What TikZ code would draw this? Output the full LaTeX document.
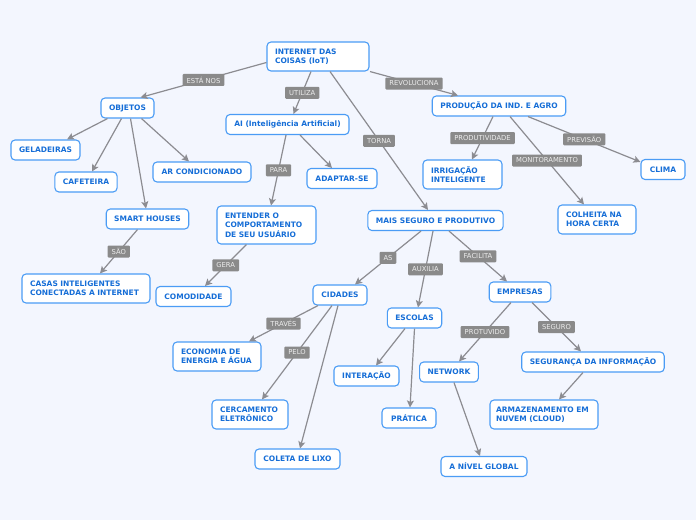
\documentclass[tikz,border=0pt]{standalone}
\usepackage{fontspec}
\newfontfamily\mapfont{DejaVu Sans}
\usetikzlibrary{arrows.meta}
\definecolor{bgblue}{RGB}{243,246,254}
\definecolor{boxline}{RGB}{75,156,245}
\definecolor{boxtext}{RGB}{22,110,215}
\definecolor{lblgray}{RGB}{138,138,138}
\definecolor{linkgray}{RGB}{140,140,145}
\begin{document}
\begin{tikzpicture}[x=1pt,y=-1pt,
  topic/.style={draw=boxline, line width=1.1pt, fill=white, rounded corners=4pt,
    text=boxtext, font=\mapfont\bfseries\fontsize{7.5}{9.5}\selectfont,
    minimum height=20pt, inner xsep=8pt, inner ysep=4pt},
  multi/.style={topic, align=left, text width=#1},
  lbl/.style={fill=lblgray, text=white!93!black, rounded corners=1pt,
    font=\mapfont\fontsize{6.8}{8}\selectfont, minimum height=12pt,
    inner xsep=4pt, inner ysep=1pt},
  link/.style={draw=linkgray, line width=1.2pt,
    -{Stealth[length=7pt,width=7pt,inset=1.5pt]}}]

% Background and page size
\fill[bgblue] (0,0) rectangle (696,520);
\useasboundingbox (0,0) rectangle (696,520);

% Central topic
\node[multi=86pt, minimum height=29pt] (iot) at (318,56.5) {INTERNET DAS\\COISAS (IoT)};

% Left branch: objects
\node[topic, minimum width=53pt] (objetos) at (127.5,108) {OBJETOS};
\node[topic, minimum width=69pt] (geladeiras) at (45.5,150) {GELADEIRAS};
\node[topic, minimum width=62pt] (cafeteira) at (86,182) {CAFETEIRA};
\node[topic, minimum width=98pt] (arcond) at (202,172) {AR CONDICIONADO};
\node[topic, minimum width=81pt] (smart) at (147.5,219) {SMART HOUSES};
\node[multi=112pt, minimum height=29pt] (casas) at (86,288.5) {CASAS INTELIGENTES\\CONECTADAS A INTERNET};

% AI branch
\node[topic, minimum width=123pt] (ai) at (287.5,124.5) {AI (Inteligência Artificial)};
\node[topic, minimum width=70pt] (adaptar) at (342,178.5) {ADAPTAR-SE};
\node[multi=83pt, minimum height=38pt] (entender) at (266.5,225) {ENTENDER O\\COMPORTAMENTO\\DE SEU USUÁRIO};
\node[topic, minimum width=75pt] (comodidade) at (193.5,296.5) {COMODIDADE};

% Production branch
\node[topic, minimum width=132pt] (producao) at (499,106) {PRODUÇÃO DA IND. E AGRO};
\node[multi=63pt, minimum height=29pt] (irrigacao) at (462.5,174.5) {IRRIGAÇÃO\\INTELIGENTE};
\node[topic, minimum width=44pt] (clima) at (663,169.5) {CLIMA};
\node[multi=62pt, minimum height=29pt] (colheita) at (597,219.5) {COLHEITA NA\\HORA CERTA};

% Safer and more productive branch
\node[topic, minimum width=135pt] (mais) at (435.5,220.5) {MAIS SEGURO E PRODUTIVO};
\node[topic, minimum width=54pt] (cidades) at (340,295) {CIDADES};
\node[topic, minimum width=53pt] (escolas) at (414.5,318) {ESCOLAS};
\node[topic, minimum width=60pt] (empresas) at (520,292) {EMPRESAS};
\node[multi=72pt, minimum height=29pt] (economia) at (217,356.5) {ECONOMIA DE\\ENERGIA E ÁGUA};
\node[multi=60pt, minimum height=29pt] (cercamento) at (250,414.5) {CERCAMENTO\\ELETRÔNICO};
\node[topic, minimum width=85pt] (coleta) at (297.5,459) {COLETA DE LIXO};
\node[topic, minimum width=65pt] (interacao) at (366.5,376) {INTERAÇÃO};
\node[topic, minimum width=54pt] (pratica) at (409,418) {PRÁTICA};
\node[topic, minimum width=58pt] (network) at (449,372) {NETWORK};
\node[topic, minimum width=86pt] (nivel) at (484,466.5) {A NÍVEL GLOBAL};
\node[topic, minimum width=140pt] (seguranca) at (593,362) {SEGURANÇA DA INFORMAÇÃO};
\node[multi=96pt, inner xsep=6pt, minimum height=29pt] (armazenamento) at (544,414.5) {ARMAZENAMENTO EM\\NUVEM (CLOUD)};

% Links from the central topic
\draw[link] ([yshift=-6pt]iot.west) -- node[lbl] {ESTÁ NOS} ([xshift=13pt]objetos.north);
\draw[link] ([xshift=-7pt]iot.south) -- node[lbl] {UTILIZA} ([xshift=6pt]ai.north);
\draw[link] ([xshift=52pt]iot.south) -- node[lbl] {REVOLUCIONA} ([xshift=-41pt]producao.north);
\draw[link] ([xshift=12pt]iot.south) -- node[lbl] {TORNA} ([xshift=-7.5pt]mais.north);

% Objects
\draw[link] ([xshift=-20pt]objetos.south) -- ([xshift=21.5pt]geladeiras.north);
\draw[link] ([xshift=-6pt]objetos.south) -- ([xshift=6pt]cafeteira.north);
\draw[link] ([xshift=3pt]objetos.south) -- ([xshift=-1.5pt]smart.north);
\draw[link] ([xshift=14pt]objetos.south) -- ([xshift=-13pt]arcond.north);
\draw[link] ([xshift=-10pt]smart.south) -- node[lbl] {SÃO} ([xshift=14pt]casas.north);

% AI
\draw[link] ([xshift=-1.5pt]ai.south) -- node[lbl] {PARA} ([xshift=4.5pt]entender.north);
\draw[link] ([xshift=12.5pt]ai.south) -- ([xshift=-10pt]adaptar.north);
\draw[link] ([xshift=-20pt]entender.south) -- node[lbl] {GERA} ([xshift=11.5pt]comodidade.north);

% Production
\draw[link] ([xshift=-6pt]producao.south) -- node[lbl] {PRODUTIVIDADE} ([xshift=9.5pt]irrigacao.north);
\draw[link] ([xshift=11pt]producao.south) -- node[lbl] {MONITORAMENTO} ([xshift=-13pt]colheita.north);
\draw[link] ([xshift=29pt]producao.south) -- node[lbl] {PREVISÃO} ([yshift=-3pt]clima.north west);

% Safer and more productive
\draw[link] ([xshift=-14.5pt]mais.south) -- node[lbl] {AS} ([xshift=15pt]cidades.north);
\draw[link] ([xshift=-2.5pt]mais.south) -- node[lbl] {AUXILIA} ([xshift=3.5pt]escolas.north);
\draw[link] ([xshift=13.5pt]mais.south) -- node[lbl] {FACILITA} ([xshift=-13pt]empresas.north);

% Cities
\draw[link] ([xshift=-22pt]cidades.south) -- node[lbl] {TRAVÉS} ([xshift=32pt]economia.north);
\draw[link] ([xshift=-8pt]cidades.south) -- node[lbl] {PELO} ([xshift=12pt]cercamento.north);
\draw[link] ([xshift=-2pt]cidades.south) -- ([xshift=2.5pt]coleta.north);

% Schools
\draw[link] ([xshift=-9.5pt]escolas.south) -- ([xshift=9.5pt]interacao.north);
\draw[link] (escolas.south) -- ([xshift=1pt]pratica.north);

% Companies
\draw[link] ([xshift=-9pt]empresas.south) -- node[lbl] {PROTUVIDO} ([xshift=10pt]network.north);
\draw[link] ([xshift=12pt]empresas.south) -- node[lbl] {SEGURO} ([xshift=-12pt]seguranca.north);
\draw[link] ([xshift=-10pt]seguranca.south) -- ([xshift=15pt]armazenamento.north);
\draw[link] ([xshift=5pt]network.south) -- ([xshift=-4pt]nivel.north);
\end{tikzpicture}
\end{document}
